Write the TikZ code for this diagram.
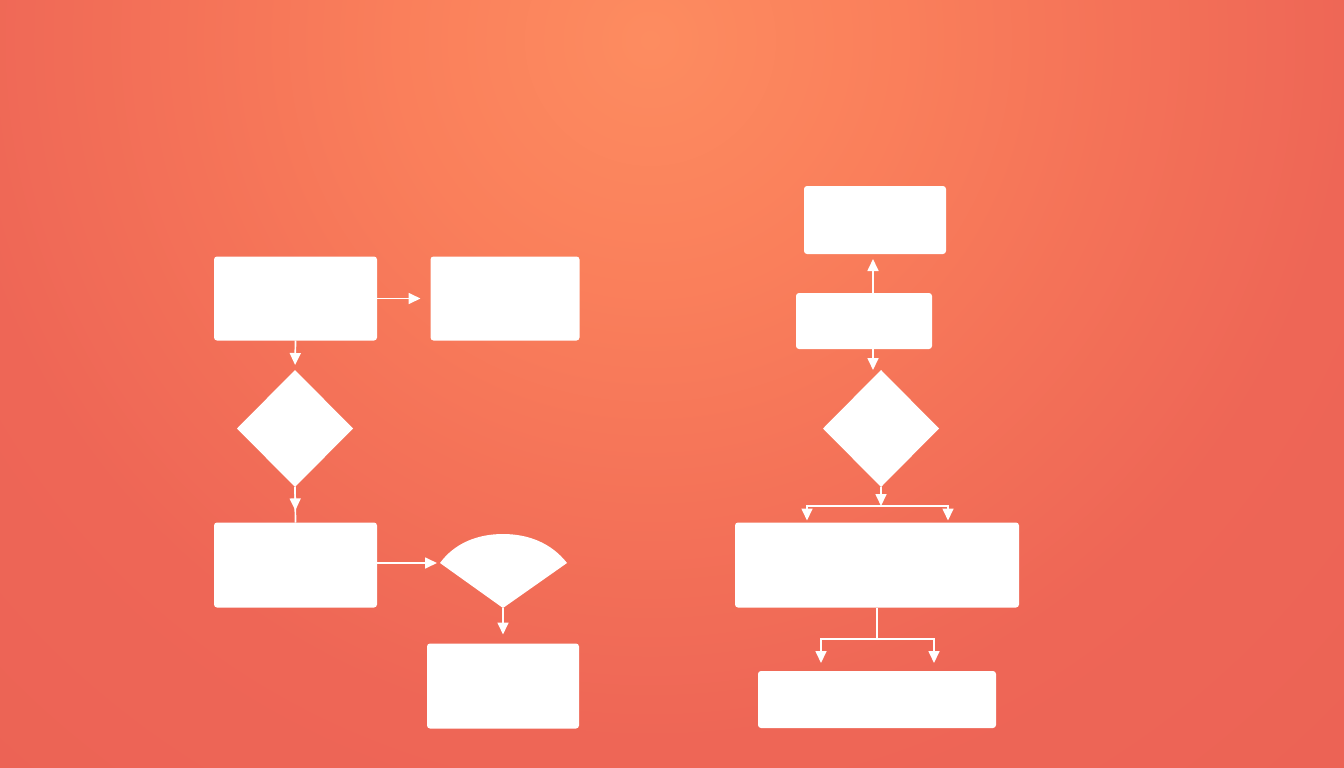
\documentclass[tikz,border=0pt]{standalone}
\usetikzlibrary{shapes.geometric,arrows.meta,calc}
\definecolor{bgin}{HTML}{FD8C60}
\definecolor{bgq}{HTML}{FA7F5B}
\definecolor{bgmid}{HTML}{F47258}
\definecolor{bgedge}{HTML}{EE6656}
\definecolor{bgout}{HTML}{EB6255}
\pgfdeclareradialshading{bgshade}{\pgfpoint{0bp}{0bp}}{color(0bp)=(bgin); color(250bp)=(bgq); color(470bp)=(bgmid); color(700bp)=(bgedge); color(1100bp)=(bgout)}
\tikzset{
  box/.style={fill=white, rounded corners=3pt, inner sep=0pt, outer sep=0pt},
  dia/.style={diamond, fill=white, inner sep=0pt, outer sep=0pt, minimum width=116pt, minimum height=117pt},
  conn/.style={white, line width=1.7pt},
  arr/.style={conn, -{Triangle[width=11pt,length=12pt]}}
}
\begin{document}
\begin{tikzpicture}[x=1pt,y=-1pt]
\useasboundingbox (0,0) rectangle (1344,768);
\begin{scope}
  \clip (0,0) rectangle (1344,768);
  \fill[bgout] (0,0) rectangle (1344,768);
  \pgftransformshift{\pgfpoint{650pt}{-40pt}}
  \pgflowlevelsynccm
  \pgfuseshading{bgshade}
\end{scope}

% left column
\node[box, minimum width=163pt, minimum height=84pt] (A) at (295.5,298.5) {};
\node[box, minimum width=149pt, minimum height=84pt] (B) at (505,298.5) {};
\node[dia] (d1) at (295,428.5) {};
\node[box, minimum width=163pt, minimum height=85pt] (C) at (295.5,565) {};
\node[box, minimum width=152pt, minimum height=85pt] (D) at (503,686) {};
\coordinate (fanL) at (440,563);
\coordinate (fanR) at (567,563);
\coordinate (fanB) at (503,608);
\fill[white] (fanB) -- (fanL) .. controls (454.8,542.8) and (478,534) .. (503,534)
  .. controls (528,534) and (551.2,542.8) .. (fanR) -- cycle;

\draw[arr, shorten >=10pt] (A.east) -- (A.east -| B.west);
\draw[arr, shorten >=5pt] (A.south) -- (d1.north);
\draw[conn] (d1.south) -- (C.north);
\draw[arr] (d1.south) -- ($(d1.south)!0.66!(C.north)$);
\draw[arr, shorten >=3pt] (fanL -| C.east) -- (fanL);
\draw[arr, shorten >=9pt] (fanB) -- (fanB |- D.north);

% right column
\node[box, minimum width=142pt, minimum height=68pt] (E) at (875,220) {};
\node[box, minimum width=136pt, minimum height=56pt] (F) at (864,321) {};
\node[dia] (d2) at (881,428.5) {};
\node[box, minimum width=284pt, minimum height=85pt] (G) at (877,565) {};
\node[box, minimum width=238pt, minimum height=57pt] (H) at (877,699.5) {};
\coordinate (j1) at (881,506);
\coordinate (j2) at (877,639);

\draw[arr, shorten >=5pt] ([xshift=9pt]F.north) -- ([xshift=9pt]F.north |- E.south);
\draw[arr] ([xshift=9pt]F.south) -- ([xshift=9pt]F.south |- d2.north);
\draw[arr] (d2.south) -- (j1);
\draw[arr, shorten >=2pt] (j1) -| ([xshift=-70pt]G.north);
\draw[arr, shorten >=2pt] (j1) -| ([xshift=71pt]G.north);
\draw[conn] (G.south) -- (j2);
\draw[arr, shorten >=8pt] (j2) -| ([xshift=-56pt]H.north);
\draw[arr, shorten >=8pt] (j2) -| ([xshift=57pt]H.north);
\end{tikzpicture}
\end{document}
